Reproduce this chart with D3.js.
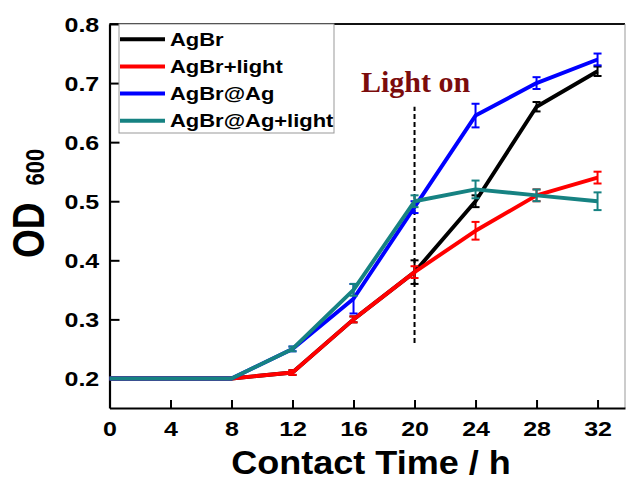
<!DOCTYPE html>
<html>
<head>
<meta charset="utf-8">
<script src="https://cdn.jsdelivr.net/npm/d3@7"></script>
<style>
  body { margin: 0; background: #fff; }
  svg { display: block; font-family: "Liberation Sans", Arial, sans-serif; font-weight: bold; }
</style>
</head>
<body>
<svg id="chart" width="627" height="479"></svg>
<script>
// OD600 growth curves vs contact time

const hours = [0, 4, 8, 12, 16, 20, 24, 28, 32];
const seriesNames = ["AgBr", "AgBr+light", "AgBr@Ag", "AgBr@Ag+light"];
const seriesColors = ["#000000", "#ff0000", "#0000ff", "#168282"];

const agbr          = [0.2, 0.2, 0.2, 0.21, 0.30, 0.38, 0.50, 0.66, 0.72];
const agbrErr       = [0, 0, 0, 0.004, 0.005, 0.02, 0.01, 0.008, 0.008];
const agbrLight     = [0.2, 0.2, 0.2, 0.21, 0.30, 0.38, 0.45, 0.51, 0.54];
const agbrLightErr  = [0, 0, 0, 0.004, 0.005, 0.01, 0.015, 0.01, 0.01];
const agbrAg        = [0.2, 0.2, 0.2, 0.25, 0.335, 0.49, 0.645, 0.70, 0.74];
const agbrAgErr     = [0, 0, 0, 0.004, 0.025, 0.01, 0.02, 0.01, 0.01];
const agbrAgLight   = [0.2, 0.2, 0.2, 0.25, 0.35, 0.50, 0.52, 0.51, 0.50];
const agbrAgLightErr= [0, 0, 0, 0.004, 0.01, 0.01, 0.015, 0.01, 0.015];

const xTicks = [0, 4, 8, 12, 16, 20, 24, 28, 32];
const yTicks = [0.2, 0.3, 0.4, 0.5, 0.6, 0.7, 0.8];
const lightOnHour = 20;
const lightOnRange = [0.26, 0.66];

const series = [
  { name: seriesNames[0], color: seriesColors[0], values: agbr, errs: agbrErr },
  { name: seriesNames[1], color: seriesColors[1], values: agbrLight, errs: agbrLightErr },
  { name: seriesNames[2], color: seriesColors[2], values: agbrAg, errs: agbrAgErr },
  { name: seriesNames[3], color: seriesColors[3], values: agbrAgLight, errs: agbrAgLightErr }
];

const svg = d3.select("#chart");

const plotLeft = 109.5, plotRight = 625, plotTop = 24, plotBottom = 408;
const STRETCH = 1.25; // glyphs in the figure are wider than Arial

const x = d3.scaleLinear().domain([0, 33.8]).range([plotLeft, plotRight]);
const y = d3.scaleLinear().domain([0.15, 0.8]).range([plotBottom, plotTop]);

// frame: top and right edges
svg.append("line")
  .attr("x1", plotLeft).attr("x2", plotRight)
  .attr("y1", plotTop).attr("y2", plotTop)
  .attr("stroke", "#111").attr("stroke-width", 2);
svg.append("line")
  .attr("x1", plotRight).attr("x2", plotRight)
  .attr("y1", plotTop).attr("y2", plotBottom)
  .attr("stroke", "#999").attr("stroke-width", 1);

// axes (ticks point inward)
const xAxis = svg.append("g")
  .attr("transform", `translate(0,${plotBottom})`)
  .call(d3.axisBottom(x).tickValues(xTicks).tickSize(-8).tickSizeOuter(0).tickPadding(13.5));

const yAxis = svg.append("g")
  .attr("transform", `translate(${plotLeft},0)`)
  .call(d3.axisLeft(y).tickValues(yTicks).tickFormat(d3.format(".1f"))
    .tickSize(-10).tickSizeOuter(0).tickPadding(8.2));

[xAxis, yAxis].forEach(g => {
  g.select(".domain").attr("stroke", "#000").attr("stroke-width", 2.2);
  g.selectAll(".tick line").attr("stroke", "#000").attr("stroke-width", 2);
  g.selectAll(".tick text")
    .attr("fill", "#000")
    .style("font-size", "20px")
    .style("font-family", "'Liberation Sans', Arial, sans-serif")
    .style("font-weight", "bold")
    .attr("transform", `scale(${STRETCH},1)`);
});
yAxis.selectAll(".tick text").attr("dy", "0.36em");

// axis titles
svg.append("text")
  .attr("transform", `translate(371,474) scale(1.06,1)`)
  .attr("text-anchor", "middle")
  .style("font-size", "34px")
  .text("Contact Time / h");

const yTitle = svg.append("text")
  .attr("transform", `translate(43.5,258) scale(1.19,1) rotate(-90)`)
  .attr("text-anchor", "start");
yTitle.append("tspan").style("font-size", "37px").text("OD");
yTitle.append("tspan").attr("dx", 17).style("font-size", "22px").text("600");

// "light on" marker
svg.append("line")
  .attr("x1", x(lightOnHour)).attr("x2", x(lightOnHour))
  .attr("y1", y(lightOnRange[0])).attr("y2", y(lightOnRange[1]))
  .attr("stroke", "#000").attr("stroke-width", 2)
  .attr("stroke-dasharray", "5,3");

svg.append("text")
  .attr("x", 361).attr("y", 92)
  .attr("fill", "#7b0c0c")
  .style("font-family", "'Liberation Serif', 'Times New Roman', serif")
  .style("font-size", "30px")
  .text("Light on");

// series
const line = d3.line()
  .x((d, i) => x(hours[i]))
  .y(d => y(d));

const CAP = 4;

series.forEach(s => {
  const g = svg.append("g");
  g.append("path")
    .datum(s.values)
    .attr("d", line)
    .attr("fill", "none")
    .attr("stroke", s.color)
    .attr("stroke-width", 3.9)
    .attr("stroke-linejoin", "round");

  const bars = hours.map((h, i) => ({ h, v: s.values[i], e: s.errs[i] }))
    .filter(d => d.e > 0);

  const eb = g.selectAll(".eb").data(bars).join("g")
    .attr("stroke", s.color).attr("stroke-width", 2);
  eb.append("line")
    .attr("x1", d => x(d.h)).attr("x2", d => x(d.h))
    .attr("y1", d => y(d.v - d.e)).attr("y2", d => y(d.v + d.e));
  eb.append("line")
    .attr("x1", d => x(d.h) - CAP).attr("x2", d => x(d.h) + CAP)
    .attr("y1", d => y(d.v + d.e)).attr("y2", d => y(d.v + d.e));
  eb.append("line")
    .attr("x1", d => x(d.h) - CAP).attr("x2", d => x(d.h) + CAP)
    .attr("y1", d => y(d.v - d.e)).attr("y2", d => y(d.v - d.e));
});

// legend
const legend = svg.append("g");
legend.append("rect")
  .attr("x", 119).attr("y", plotTop)
  .attr("width", 215).attr("height", 109)
  .attr("fill", "#fff")
  .attr("stroke", "#999").attr("stroke-width", 1);

const rowY = d3.scalePoint().domain(seriesNames).range([39.3, 120.7]);

series.forEach(s => {
  const yy = rowY(s.name);
  legend.append("line")
    .attr("x1", 120).attr("x2", 165)
    .attr("y1", yy).attr("y2", yy)
    .attr("stroke", s.color).attr("stroke-width", 4);
  legend.append("text")
    .attr("transform", `translate(170,${yy + 6.5}) scale(1.22,1)`)
    .style("font-size", "18px")
    .text(s.name);
});
</script>
</body>
</html>
